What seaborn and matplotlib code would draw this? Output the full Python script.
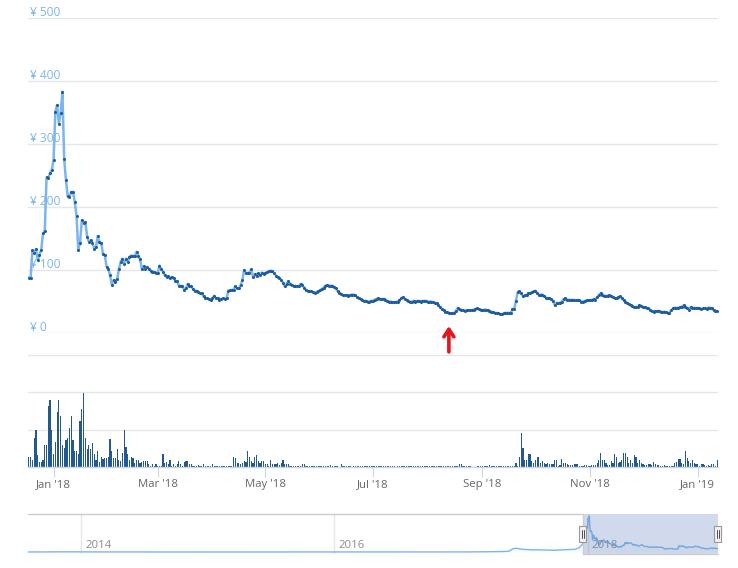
import numpy as np
import pandas as pd
import matplotlib
matplotlib.use("Agg")
import matplotlib.pyplot as plt
import matplotlib.dates as mdates
import matplotlib.transforms as mtransforms
from matplotlib.patches import Rectangle
import seaborn as sns

# ---- data ----
start_date = "2017-12-18"

# daily close, yen (Dec 18 2017 -> Jan 12 2019)
price_dec_feb = [
    88, 88, 131, 127, 133, 116, 124, 132, 158, 162,
    247, 246, 254, 259, 275, 351, 362, 332, 349, 383,
    276, 243, 217, 216, 224, 224, 208, 186, 132, 143,
    179, 174, 176, 153, 145, 147, 143, 134, 136, 154,
    144, 143, 125, 124, 105, 102, 92, 76, 84, 81,
    85, 101, 113, 118, 110, 118, 113, 121, 123,
]
price_feb_may = [
    122, 122, 129, 122, 117, 102, 106, 102, 104, 102,
    99, 97, 97, 96, 95, 107, 102, 97, 92, 89,
    90, 87, 89, 87, 83, 82, 75, 75, 74, 69,
    71, 78, 75, 74, 70, 67, 67, 65, 63, 63,
    58, 55, 55, 54, 52, 55, 59, 55, 55, 52,
    54, 55, 54, 55, 67, 68, 68, 69, 74, 71,
    71, 76, 84, 100, 95, 95, 96, 101, 89, 93,
    90, 95, 92, 96, 94, 95, 97, 98, 99, 98,
    95, 91, 89, 87, 84, 80, 74, 78, 82, 78,
    76, 74, 75, 74, 75,
]
price_may_sep = [
    78, 76, 72, 68, 67, 66, 66, 65, 63, 65,
    66, 68, 70, 72, 75, 76, 75, 75, 75, 73,
    71, 66, 64, 62, 60, 60, 60, 59, 60, 61,
    61, 60, 57, 55, 54, 52, 51, 51, 50, 50,
    51, 51, 53, 54, 55, 54, 54, 54, 53, 51,
    50, 50, 49, 49, 49, 50, 52, 55, 57, 54,
    52, 51, 49, 50, 51, 50, 51, 51, 50, 51,
    51, 51, 49, 50, 50, 49, 48, 47, 44, 41,
    38, 36, 34, 33, 32, 31, 31, 32, 35, 40,
    38, 37, 36, 35, 36, 36, 36, 36, 37, 38,
    39, 38, 37, 36, 37, 37, 36, 35, 34, 33,
    32, 32, 31, 30, 30, 31, 32,
]
price_sep_jan = [
    32, 32, 31, 38, 38, 51, 65, 66, 63, 58,
    60, 60, 63, 63, 65, 66, 67, 64, 60, 61,
    61, 59, 56, 55, 55, 54, 51, 44, 48, 47,
    48, 50, 54, 55, 53, 53, 52, 53, 52, 52,
    52, 52, 50, 50, 51, 52, 52, 52, 52, 54,
    53, 57, 60, 63, 61, 59, 59, 59, 60, 59,
    57, 55, 55, 57, 58, 55, 52, 50, 48, 46,
    44, 43, 41, 41, 42, 44, 43, 41, 41, 40,
    39, 37, 35, 34, 35, 35, 35, 34, 33, 34,
    33, 32, 32, 36, 39, 40, 40, 40, 41, 42,
    44, 42, 40, 37, 41, 40, 40, 39, 40, 39,
    38, 39, 39, 38, 40, 40, 39, 36, 35, 35,
]

# daily volume, arbitrary units (grid every 50)
volume_dec_apr = [
    13, 14, 9, 39, 50, 16, 7, 7, 9, 30,
    30, 82, 90, 50, 17, 34, 73, 89, 68, 30,
    25, 36, 39, 52, 68, 36, 22, 21, 18, 61,
    77, 99, 39, 24, 29, 24, 32, 18, 9, 21,
    7, 13, 11, 12, 12, 13, 37, 21, 12, 12,
    24, 10, 8, 19, 50, 27, 18, 10, 14, 12,
    5, 10, 10, 5, 7, 8, 8, 8, 4, 2,
    4, 2, 4, 1, 1, 1, 17, 6, 7, 4,
    9, 2, 4, 2, 4, 8, 4, 2, 7, 8,
    8, 4, 4, 2, 2, 2, 3, 2, 2, 4,
    2, 2, 2, 2, 4, 2, 2, 1, 1, 1,
    2, 1, 2, 1, 1, 2, 13, 12, 5, 5,
    4, 5, 8, 7, 22, 14, 8, 5, 14, 16,
    8, 5, 8, 8,
]
volume_may_aug = [
    4, 4, 2, 9, 4, 4, 4, 5, 3, 6,
    9, 4, 4, 4, 2, 2, 2, 1, 1, 1,
    1, 4, 4, 1, 1, 2, 2, 2, 1, 1,
    1, 2, 1, 1, 2, 1,
    2, 3, 2, 1, 1, 1, 0.5, 4, 2, 2,
    2, 1, 1, 0.5, 1, 1, 1, 2, 2, 2,
    1, 1, 1, 1, 2, 2, 2, 1, 1, 1,
    1, 1, 1, 1, 1, 1, 1, 1, 0.5, 2,
    2, 2, 2, 1, 1, 1, 2, 1, 1, 1,
    1, 1, 1, 1, 2, 1, 1, 1, 1, 2,
    1, 1, 2, 1, 1, 1, 2,
    2, 2, 2, 1, 1, 1, 2, 4, 4, 2,
    1, 1, 1, 1, 0.5, 0.5, 0.5, 2, 1, 1,
    1, 1, 1, 1,
]
volume_sep_jan = [
    3, 2, 1, 1, 1, 2, 2, 2, 2, 2,
    1, 1, 1, 2, 1, 6, 2, 14, 46, 26,
    10, 10, 18, 17, 8, 6, 10, 13, 14, 6,
    8, 5, 4, 6, 4, 4, 4, 9, 9, 2,
    3, 11, 6, 6, 4, 3, 3, 3, 4, 4,
    4, 2, 2, 2, 3, 3, 2, 1, 3, 3,
    3, 5, 9, 19, 9, 9, 6, 3, 3, 8,
    6, 18, 13, 6, 7, 10, 19, 19, 13, 6,
    10, 6, 16, 14, 6, 10, 6, 4, 3, 3,
    4, 4, 3, 7, 4, 3, 3, 2, 2, 3,
    2, 2, 2, 2, 2, 6, 7, 11, 11, 6,
    4, 21, 12, 8, 6, 9, 6, 4, 4, 2,
    4, 4, 3, 2, 3, 2, 4, 4, 2, 9,
]

# navigator history before the zoomed range
hist_monthly_start = "2013-08-01"
hist_monthly = [
    0.5, 0.6, 0.6, 1.8, 2.2,
    1.4, 1.1, 0.9, 0.7, 0.6, 0.6, 0.5, 0.5, 0.4, 0.4, 0.4, 0.3,
    0.3, 0.3, 0.3, 0.3, 0.3, 0.3, 0.3, 0.3, 0.3, 0.3, 0.4, 0.4,
    0.5, 0.5, 0.6, 0.6, 0.7, 0.8, 0.7, 0.7, 0.6, 0.6, 0.7, 0.8,
    1.0, 1.2, 2.0, 3.5,
]
hist_2017_dates = ["2017-05-10", "2017-05-20", "2017-05-30", "2017-06-10", "2017-06-25",
                   "2017-07-10", "2017-07-25", "2017-08-10", "2017-08-25", "2017-09-10",
                   "2017-09-25", "2017-10-10", "2017-10-25", "2017-11-10", "2017-11-25",
                   "2017-12-08"]
hist_2017 = [6, 10, 34, 40, 30, 26, 23, 24, 22, 20, 19, 22, 24, 26, 29, 45]

price_ticks = [0, 100, 200, 300, 400, 500]
volume_ticks = [0, 50, 100, 150]
month_ticks = ["2018-01-01", "2018-03-01", "2018-05-01", "2018-07-01",
               "2018-09-01", "2018-11-01", "2019-01-01"]
year_ticks = ["2014-01-01", "2016-01-01", "2018-01-01"]
year_labels = ["2014", "2016", "2018"]
arrow_date = "2018-08-13"

# ---- frames ----
price = price_dec_feb + price_feb_may + price_may_sep + price_sep_jan
volume = volume_dec_apr + volume_may_aug + volume_sep_jan
dates = pd.date_range(start_date, periods=len(price), freq="D")
df = pd.DataFrame({"date": mdates.date2num(dates), "price": price, "volume": volume})

hist_dates = list(pd.date_range(hist_monthly_start, periods=len(hist_monthly), freq="MS"))
hist_dates += list(pd.to_datetime(hist_2017_dates))
nav = pd.DataFrame({
    "date": np.concatenate([mdates.date2num(hist_dates), df["date"].values]),
    "price": list(hist_monthly) + list(hist_2017) + list(price),
})

line_color = "#7cb5ec"
dot_color = "#1f5c9e"
bar_color = "#22598f"
grid_color = "#e6e6e6"
axis_color = "#ccd6eb"

sns.set_theme(style="white")
plt.rcParams["font.family"] = ["Open Sans", "DejaVu Sans"]

W, H = 738, 568
fig = plt.figure(figsize=(W / 100, H / 100), dpi=100)


def box(x0, y0, x1, y1):
    return [x0 / W, 1 - y1 / H, (x1 - x0) / W, (y1 - y0) / H]


ax_p = fig.add_axes(box(28, 18, 718, 333))
ax_v = fig.add_axes(box(28, 354.5, 718, 467))
ax_n = fig.add_axes(box(28, 514, 718, 554))

x0 = df["date"].iloc[0] - 0.5
x1 = df["date"].iloc[-1] + 0.5

# ---- price pane ----
sns.lineplot(data=df, x="date", y="price", ax=ax_p, color=line_color, lw=1.8,
             marker="o", markersize=2.2, markerfacecolor=dot_color,
             markeredgewidth=0, zorder=3)
ax_p.set_xlim(x0, x1)
ax_p.set_ylim(0, 500)
ax_p.set_yticks(price_ticks)
ax_p.yaxis.grid(True, color=grid_color, lw=1)
ax_p.xaxis.grid(False)
ax_p.tick_params(left=False, labelleft=False, bottom=False, labelbottom=False)
ax_p.set_xlabel("")
ax_p.set_ylabel("")
for s in ax_p.spines.values():
    s.set_visible(False)
for v in price_ticks:
    ax_p.annotate(f"¥ {v}", xy=(0, v), xycoords=ax_p.get_yaxis_transform(),
                  xytext=(1.5, 3.8), textcoords="offset points", ha="left", va="center",
                  color=line_color, fontsize=8.6, zorder=1, annotation_clip=False)

arrow_x = mdates.date2num(pd.Timestamp(arrow_date))
ax_p.annotate("", xy=(arrow_x, 11), xytext=(arrow_x, -30),
              arrowprops=dict(arrowstyle="->,head_length=0.45,head_width=0.3",
                              color="#e8141b", lw=2.6, shrinkA=0, shrinkB=0),
              annotation_clip=False)

# ---- volume pane ----
sns.barplot(x=df["date"], y=df["volume"], ax=ax_v, native_scale=True, orient="x",
            color=bar_color, saturation=1, width=0.65, errorbar=None, linewidth=0)
ax_v.set_xlim(x0, x1)
ax_v.set_ylim(0, 150)
ax_v.set_yticks(volume_ticks)
ax_v.yaxis.grid(True, color=grid_color, lw=1)
ax_v.xaxis.grid(False)
ax_v.tick_params(axis="y", left=False, labelleft=False)
ax_v.set_xticks(mdates.date2num(pd.to_datetime(month_ticks)))
ax_v.xaxis.set_major_formatter(mdates.DateFormatter("%b '%y"))
ax_v.tick_params(axis="x", bottom=True, length=7.2, width=0.8, color=axis_color,
                 labelcolor="#666666", labelsize=8.2, pad=1.2)
ax_v.set_xlabel("")
ax_v.set_ylabel("")
for name, s in ax_v.spines.items():
    s.set_visible(name == "bottom")
ax_v.spines["bottom"].set_color(axis_color)
ax_v.spines["bottom"].set_linewidth(1)

# ---- navigator ----
nav_x0 = nav["date"].iloc[0]
nav_x1 = nav["date"].iloc[-1]
sns.lineplot(data=nav, x="date", y="price", ax=ax_n, color=line_color, lw=1, zorder=3)
ax_n.fill_between(nav["date"], nav["price"], color=line_color, alpha=0.06, lw=0, zorder=2)
ax_n.set_xlim(nav_x0, nav_x1)
ax_n.set_ylim(-21, 404)
ax_n.set_xticks(mdates.date2num(pd.to_datetime(year_ticks)))
ax_n.xaxis.grid(True, color=grid_color, lw=1)
ax_n.yaxis.grid(False)
ax_n.tick_params(left=False, labelleft=False, bottom=False, labelbottom=False)
ax_n.set_xlabel("")
ax_n.set_ylabel("")
for s in ax_n.spines.values():
    s.set_visible(False)

blend = mtransforms.blended_transform_factory(ax_n.transData, ax_n.transAxes)
for t, lab in zip(year_ticks, year_labels):
    ax_n.annotate(lab, xy=(mdates.date2num(pd.Timestamp(t)), 0.2), xycoords=blend,
                  xytext=(3, 0), textcoords="offset points", ha="left", va="center",
                  color="#8c8c8c", fontsize=8.2)

ax_n.axvspan(x0, nav_x1, color="#6685c2", alpha=0.3, lw=0, zorder=4)
ax_n.plot([nav_x0, x0], [1, 1], transform=blend, color="#cccccc", lw=1, clip_on=False)
ax_n.plot([x0, x0, nav_x1], [1, 0, 0], transform=blend, color="#cccccc", lw=1,
          clip_on=False, zorder=5)

handle_w = 7 / (690 / (nav_x1 - nav_x0))
for hx in (x0, nav_x1):
    ax_n.add_patch(Rectangle((hx - handle_w / 2, 0.31), handle_w, 0.38, transform=blend,
                             facecolor="#f2f2f2", edgecolor="#999999", lw=0.8,
                             clip_on=False, zorder=6))
    for dx in (-0.15, 0.15):
        ax_n.plot([hx + dx * handle_w, hx + dx * handle_w], [0.4, 0.6], transform=blend,
                  color="#333333", lw=0.6, clip_on=False, zorder=7)

fig.savefig("out.png", dpi=100)
